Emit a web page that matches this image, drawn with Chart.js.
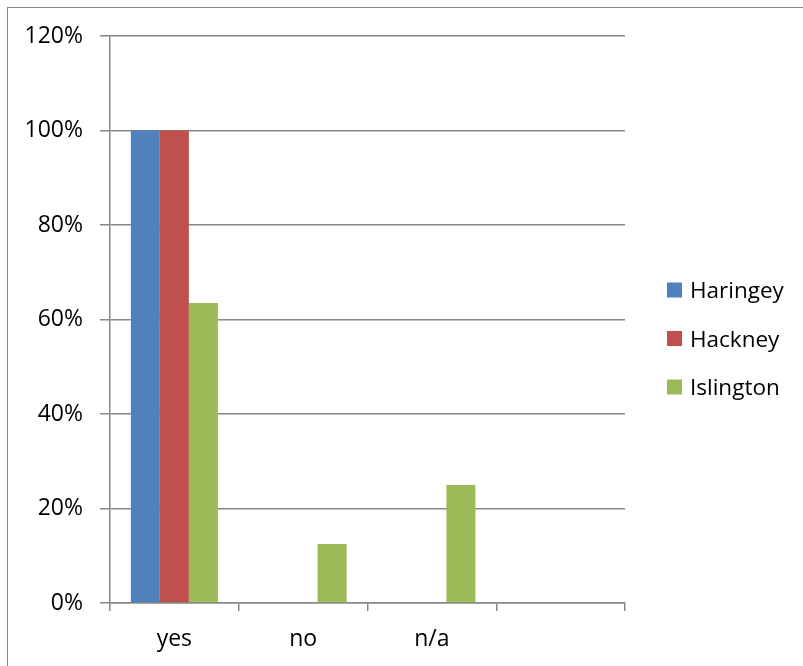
<!DOCTYPE html>
<html>
<head>
<meta charset="utf-8">
<script src="https://cdn.jsdelivr.net/npm/chart.js@4/dist/chart.umd.min.js"></script>
<style>
  html, body { margin: 0; padding: 0; background: #fff; overflow: hidden; }
  #wrap { position: relative; width: 803px; height: 666px; }
</style>
</head>
<body>
<div id="wrap"><canvas id="c" width="803" height="666"></canvas></div>
<script>
const categories = ['yes', 'no', 'n/a', ''];
const seriesNames = ['Haringey', 'Hackney', 'Islington'];
const haringey = [100, 0, 0, null];
const hackney = [100, 0, 0, null];
const islington = [63.5, 12.5, 25, null];
const yTicks = [0, 20, 40, 60, 80, 100, 120];
const colors = ['#4F81BD', '#C0504D', '#9BBB59'];

const FONT = '"Open Sans", sans-serif';
const AXIS = '#878787';

const frame = {
  id: 'frame',
  beforeDraw(chart) {
    const ctx = chart.ctx;
    ctx.save();
    ctx.fillStyle = '#fff';
    ctx.fillRect(0, 0, chart.width, chart.height);
    ctx.strokeStyle = AXIS;
    ctx.lineWidth = 1;
    ctx.strokeRect(7.5, 7.5, 2000, 2000);
    ctx.restore();
  }
};

const sideLegend = {
  id: 'sideLegend',
  afterDraw(chart) {
    const ctx = chart.ctx;
    ctx.save();
    ctx.font = '22.5px ' + FONT;
    ctx.textBaseline = 'alphabetic';
    ctx.textAlign = 'left';
    chart.data.datasets.forEach((ds, i) => {
      const base = 298 + i * 48.5;
      ctx.fillStyle = ds.backgroundColor;
      ctx.fillRect(667, base - 15.5, 15, 15);
      ctx.fillStyle = '#000';
      ctx.fillText(ds.label, 690, base);
    });
    ctx.restore();
  }
};

new Chart(document.getElementById('c'), {
  type: 'bar',
  data: {
    labels: categories,
    datasets: [
      { label: seriesNames[0], data: haringey, backgroundColor: colors[0] },
      { label: seriesNames[1], data: hackney, backgroundColor: colors[1] },
      { label: seriesNames[2], data: islington, backgroundColor: colors[2] }
    ]
  },
  options: {
    responsive: false,
    animation: false,
    devicePixelRatio: 1,
    categoryPercentage: 0.676,
    barPercentage: 1,
    layout: { padding: { left: 10, top: 36, right: 178, bottom: 0 } },
    plugins: { legend: { display: false }, tooltip: { enabled: false } },
    scales: {
      x: {
        afterFit(s) { s.height = 63; },
        grid: { display: true, drawOnChartArea: false, drawTicks: true, tickLength: 8, color: AXIS, lineWidth: 1.5, offset: true },
        border: { display: true, color: AXIS, width: 1.5 },
        ticks: { color: '#000', font: { family: FONT, size: 23 }, padding: 15, maxRotation: 0 }
      },
      y: {
        min: 0,
        max: 120,
        afterFit(s) { s.width = 100; },
        afterBuildTicks(s) { s.ticks = yTicks.map(v => ({ value: v })); },
        grid: { display: true, drawOnChartArea: true, drawTicks: true, tickLength: 10, color: AXIS, lineWidth: 1.5 },
        border: { display: true, color: AXIS, width: 1.5 },
        ticks: { color: '#000', font: { family: FONT, size: 23 }, padding: 17, callback: v => v + '%' }
      }
    }
  },
  plugins: [frame, sideLegend]
});
</script>
</body>
</html>
